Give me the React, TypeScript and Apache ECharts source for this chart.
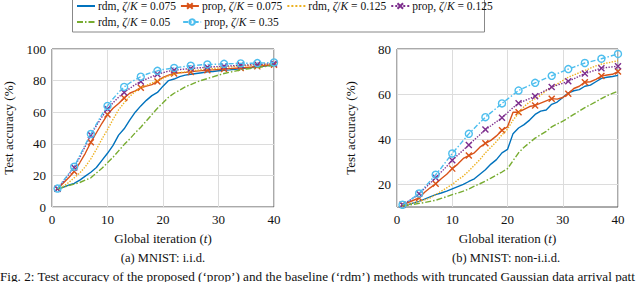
import React, { useEffect, useRef } from "react";
import * as echarts from "echarts";

const ITER = Array.from({ length: 40 }, (_, i) => i + 1);

// (a) MNIST i.i.d.
const IID_RDM_075 = [11.5, 12.5, 13.8, 15, 17, 19.5, 22, 25, 29.5, 34, 39, 45.5, 49.5, 55, 60, 64, 67.5, 70.5, 72.5, 76.5, 80, 81, 82.5, 83.5, 84, 84.5, 85, 85.5, 85.8, 86.2, 86.5, 86.8, 87.2, 87.5, 88, 88.3, 88.7, 89, 89.5, 90];
const IID_PROP_075 = [11.5, 15, 18.5, 22.5, 28, 34, 41, 47, 53, 58.5, 62.5, 65.5, 69, 72, 73.5, 75.5, 76.5, 77.5, 79.5, 82, 83.5, 84.5, 85, 85.2, 85.5, 86, 86.3, 86.5, 86.8, 87, 87.3, 87.6, 87.8, 88, 88.3, 88.6, 89, 89.4, 89.7, 90];
const IID_RDM_125 = [11.5, 13, 15.5, 18.5, 21.5, 25.5, 30.5, 36.5, 43, 49, 55.5, 61.5, 66, 70, 73, 75.5, 77, 78.5, 80, 81.5, 83, 84, 85, 85.5, 86, 86.5, 87, 87.3, 87.6, 88, 88.3, 88.6, 88.9, 89.2, 89.5, 89.8, 90, 90.2, 90.4, 90.6];
const IID_PROP_125 = [11.5, 16, 20.5, 25, 31.5, 38.5, 45.5, 51.5, 57, 62, 66, 69.5, 72.5, 75, 77.5, 79.5, 81, 82.5, 84, 85, 86, 86.5, 87, 87.3, 87.6, 88, 88.2, 88.5, 88.7, 88.9, 89.1, 89.3, 89.5, 89.7, 89.9, 90, 90.2, 90.4, 90.6, 90.8];
const IID_RDM_05 = [11.5, 12.5, 13.5, 14.5, 15.5, 17, 18.5, 21.5, 24.5, 28, 31.5, 35.5, 39.5, 43, 47, 50.5, 54.5, 58.5, 62.5, 66, 69.5, 72, 74, 76, 77.5, 79, 80.2, 81.3, 82.4, 83.5, 84.5, 85.3, 86, 86.8, 87.3, 87.8, 88.3, 88.8, 89.2, 89.6];
const IID_PROP_35 = [11.7, 16.5, 21, 25.5, 32.5, 39.5, 46.2, 52.5, 58.5, 64, 68.5, 72.5, 76, 78.5, 80.5, 82.5, 84, 85.2, 86.2, 87, 87.5, 88, 88.5, 89, 89.4, 89.7, 90, 90.2, 90.3, 90.4, 90.6, 90.7, 90.8, 90.9, 91, 91, 91.1, 91.2, 91.3, 91.5];

// (b) MNIST non-i.i.d.
const NIID_RDM_075 = [10.5, 11, 11.8, 12.5, 13.5, 14.5, 15.5, 16.2, 17, 18, 19, 20, 21.3, 22.5, 24.5, 26.5, 29, 31, 34, 35.5, 42.5, 45, 46.5, 48.5, 51, 52.5, 53, 55.5, 56.5, 58.5, 60.5, 61.5, 62, 63.5, 64, 65.5, 67, 67.5, 67.8, 68.3];
const NIID_PROP_075 = [11, 12, 13, 14, 16.5, 18.5, 20.3, 22.5, 24.5, 27, 29, 31.5, 32.8, 34, 36.5, 38.2, 39.5, 41.5, 44, 45.5, 52, 52, 53.3, 54.5, 55, 56, 57, 58, 57.8, 58.5, 60.2, 62.5, 63.5, 65.3, 65.5, 66.5, 68, 68.5, 68.8, 70];
const NIID_RDM_125 = [10.5, 11, 11.8, 12.5, 13.2, 14, 15.5, 17, 18.5, 20, 22, 23.7, 26, 28.5, 31, 34, 36.5, 39, 42, 44.5, 48.5, 51.5, 54.5, 56.5, 58, 59.5, 61.5, 63, 64.5, 66, 67.5, 68.5, 69.5, 70.5, 71.5, 72.5, 73.3, 73.8, 74.3, 74.8];
const NIID_PROP_125 = [11, 12.5, 14, 15.9, 18.2, 20.5, 23, 25.5, 28, 30.7, 33, 35.2, 37.5, 39.8, 42, 44.3, 46, 47.8, 49.5, 51.8, 54, 56, 57, 58, 59.1, 60.5, 61.8, 63.2, 64, 64.8, 65.7, 66.8, 68, 69.1, 69.9, 70.7, 71.5, 71.8, 72.1, 72.4];
const NIID_RDM_05 = [10.5, 10.8, 11.2, 11.6, 12, 12.5, 13, 13.8, 14.6, 15.5, 16.2, 17, 18, 19.2, 20.3, 21.5, 22.8, 24.2, 25.5, 27, 30.5, 34, 36.5, 38.5, 40.5, 42, 43.5, 45.5, 46.8, 48, 49.5, 51, 52.5, 54, 55.3, 56.6, 58, 59.3, 60.3, 61.3];
const NIID_PROP_35 = [11, 12.5, 14.2, 16, 18.8, 21.5, 24.3, 27.3, 30.5, 33.7, 36.6, 39.5, 42.4, 44.9, 47.4, 49.8, 51.8, 53.8, 55.9, 57.8, 59.7, 61.6, 62.8, 63.9, 65, 66, 67.1, 68.1, 69.1, 70.1, 71.1, 72, 72.9, 73.8, 74.4, 75, 75.7, 76.4, 77.1, 77.8];

const X_TICKS = [0, 10, 20, 30, 40];
const Y_TICKS_A = [0, 20, 40, 60, 80, 100];
const Y_TICKS_B = [20, 40, 60, 80];

const NAMES = [
  "rdm, ζ/K = 0.075",
  "prop, ζ/K = 0.075",
  "rdm, ζ/K = 0.125",
  "prop, ζ/K = 0.125",
  "rdm, ζ/K = 0.05",
  "prop, ζ/K = 0.35",
];

const FONT = '"Liberation Serif", "Times New Roman", serif';
const CROSS = "path://M0,0L10,10M10,0L0,10";

const STYLES = [
  { color: "#0072BD", type: "solid", symbol: "none" },
  { color: "#D95319", type: "solid", symbol: CROSS },
  { color: "#EDB120", type: "dotted", symbol: "none" },
  { color: "#7E2F8E", type: "dotted", symbol: CROSS },
  { color: "#77AC30", type: [6, 2, 1.5, 2], symbol: "none" },
  { color: "#4DBEEE", type: [5, 2, 1.5, 2], symbol: "circle" },
];

function makeSeries(sets: number[][], axisIndex: number) {
  return sets.map((vals, k) => {
    const st = STYLES[k];
    const isCircle = st.symbol === "circle";
    return {
      type: "line",
      name: NAMES[k],
      xAxisIndex: axisIndex,
      yAxisIndex: axisIndex,
      data: ITER.map((t, i) => [t, vals[i]]),
      symbol: st.symbol,
      showSymbol: st.symbol !== "none",
      showAllSymbol: true,
      symbolSize: (_v: any, p: any) =>
        p && typeof p.dataIndex === "number"
          ? p.dataIndex % 3 === 0
            ? isCircle
              ? 7
              : 6
            : 0
          : 6,
      color: st.color,
      lineStyle: { color: st.color, width: 1.4, type: st.type },
      itemStyle: {
        color: isCircle ? "rgba(0,0,0,0)" : st.color,
        borderColor: st.color,
        borderWidth: 1.4,
      },
      z: 2 + k,
    };
  });
}

const legendItem = (k: number) =>
  STYLES[k].symbol === "none"
    ? { name: NAMES[k], itemStyle: { opacity: 0 } }
    : { name: NAMES[k] };

const legendFormatter = (name: string) => {
  const [lead, rest] = name.split(", ");
  const val = rest.split("= ")[1];
  return `{a|${lead},} {i|ζ}{a|/}{i|K}{a| = ${val}}`;
};

const legendRich = {
  a: { fontFamily: FONT, fontSize: 11.5, color: "#111" },
  i: { fontFamily: FONT, fontSize: 11.5, fontStyle: "italic", color: "#111" },
};

export default function App() {
  const ref = useRef<HTMLDivElement>(null);

  useEffect(() => {
    document.body.style.margin = "0";
    if (!ref.current) return;
    const chart = echarts.init(ref.current, undefined, { renderer: "svg" });

    const axisLabel = { fontFamily: FONT, fontSize: 13, color: "#111", margin: 6 };
    const splitLine = { show: true, lineStyle: { color: "#dcdcdc", width: 1 } };
    const xName = "{a|Global iteration (}{i|t}{a|)}";
    const nameStyle = {
      fontFamily: FONT,
      fontSize: 13,
      color: "#111",
      rich: {
        a: { fontFamily: FONT, fontSize: 13, color: "#111" },
        i: { fontFamily: FONT, fontSize: 13, fontStyle: "italic", color: "#111" },
      },
    };

    const xAxisBase = (gridIndex: number) => ({
      type: "value",
      gridIndex,
      min: 0,
      max: 40,
      interval: 10,
      name: xName,
      nameLocation: "middle",
      nameGap: 25,
      nameTextStyle: nameStyle,
      axisLine: { show: false },
      axisTick: { show: false, customValues: X_TICKS },
      axisLabel: { ...axisLabel, customValues: X_TICKS },
      splitLine,
    });

    const option: any = {
      animation: false,
      backgroundColor: "#fff",
      textStyle: { fontFamily: FONT },
      grid: [
        { left: 52, right: 366, top: 49, bottom: 75, show: true, borderColor: "#555", borderWidth: 1, backgroundColor: "transparent" },
        { left: 397, right: 22, top: 49, bottom: 75, show: true, borderColor: "#555", borderWidth: 1, backgroundColor: "transparent" },
      ],
      xAxis: [xAxisBase(0), xAxisBase(1)],
      yAxis: [
        {
          type: "value",
          gridIndex: 0,
          min: 0,
          max: 100,
          interval: 20,
          name: "Test accuracy (%)",
          nameLocation: "middle",
          nameGap: 37,
          nameTextStyle: { fontFamily: FONT, fontSize: 13, color: "#111" },
          axisLine: { show: false },
          axisTick: { show: false, customValues: Y_TICKS_A },
          axisLabel: { ...axisLabel, customValues: Y_TICKS_A },
          splitLine,
        },
        {
          type: "value",
          gridIndex: 1,
          min: 10,
          max: 80,
          name: "Test accuracy (%)",
          nameLocation: "middle",
          nameGap: 40,
          nameTextStyle: { fontFamily: FONT, fontSize: 13, color: "#111" },
          axisLine: { show: false },
          axisTick: { show: false, customValues: Y_TICKS_B },
          axisLabel: { ...axisLabel, customValues: Y_TICKS_B },
          splitLine,
        },
      ],
      legend: [
        {
          data: [0, 1, 2, 3].map(legendItem),
          left: 76,
          top: 0,
          padding: 0,
          itemGap: 4,
          itemWidth: 18,
          itemHeight: 7,
          formatter: legendFormatter,
          textStyle: { fontFamily: FONT, fontSize: 11.5, color: "#111", padding: [0, 0, 0, -2], rich: legendRich },
        },
        {
          data: [4, 5].map(legendItem),
          left: 76,
          top: 16,
          padding: 0,
          itemGap: 12,
          itemWidth: 18,
          itemHeight: 7,
          formatter: legendFormatter,
          textStyle: { fontFamily: FONT, fontSize: 11.5, color: "#111", padding: [0, 0, 0, -2], rich: legendRich },
        },
      ],
      graphic: [
        {
          type: "rect",
          shape: { x: 72.5, y: -2, width: 412, height: 34 },
          style: { fill: "none", stroke: "#888", lineWidth: 1 },
          silent: true,
          z: -1,
        },
        {
          type: "text",
          x: 163,
          y: 258,
          style: { text: "(a) MNIST: i.i.d.", fontFamily: FONT, fontSize: 12.5, fill: "#111", align: "center", verticalAlign: "middle" },
        },
        {
          type: "text",
          x: 506,
          y: 258,
          style: { text: "(b) MNIST: non-i.i.d.", fontFamily: FONT, fontSize: 12.5, fill: "#111", align: "center", verticalAlign: "middle" },
        },
        {
          type: "text",
          x: 0,
          y: 276,
          style: {
            text: "Fig. 2: Test accuracy of the proposed (\u2018prop\u2019) and the baseline (\u2018rdm\u2019) methods with truncated Gaussian data arrival patt",
            fontFamily: FONT,
            fontSize: 13.2,
            fill: "#111",
            align: "left",
            verticalAlign: "middle",
          },
        },
      ],
      series: [
        ...makeSeries([IID_RDM_075, IID_PROP_075, IID_RDM_125, IID_PROP_125, IID_RDM_05, IID_PROP_35], 0),
        ...makeSeries([NIID_RDM_075, NIID_PROP_075, NIID_RDM_125, NIID_PROP_125, NIID_RDM_05, NIID_PROP_35], 1),
      ],
    };

    chart.setOption(option);
    return () => chart.dispose();
  }, []);

  return <div ref={ref} style={{ width: 640, height: 282 }} />;
}
